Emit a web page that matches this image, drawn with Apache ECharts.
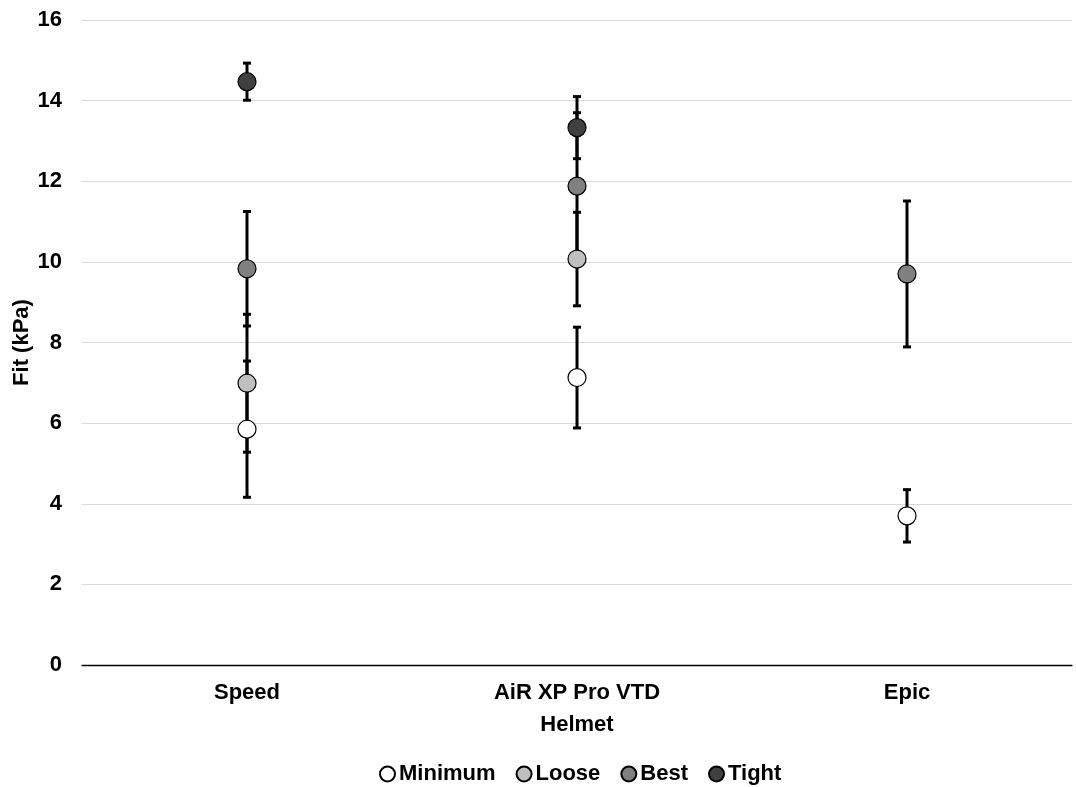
<!DOCTYPE html>
<html>
<head>
<meta charset="utf-8">
<script src="https://cdn.jsdelivr.net/npm/echarts@6/dist/echarts.min.js"></script>
<style>html,body{margin:0;padding:0;background:#fff}#c{width:1076px;height:787px}</style>
</head>
<body>
<div id="c"></div>
<script>
const categories = ['Speed', 'AiR XP Pro VTD', 'Epic'];
const yTicks = [0, 2, 4, 6, 8, 10, 12, 14, 16];
const seriesNames = ['Minimum', 'Loose', 'Best', 'Tight'];
const minimum = [5.85, 7.13, 3.70];
const minimumErr = [1.69, 1.25, 0.65];
const loose = [6.99, 10.07, null];
const looseErr = [1.71, 1.16, null];
const best = [9.83, 11.88, 9.70];
const bestErr = [1.42, 1.82, 1.81];
const tight = [14.47, 13.33, null];
const tightErr = [0.46, 0.77, null];
const colors = ['#ffffff', '#bfbfbf', '#808080', '#404040'];

const vals = [minimum, loose, best, tight];
const errs = [minimumErr, looseErr, bestErr, tightErr];
const FONT = '"Liberation Sans", Arial, sans-serif';

const chart = echarts.init(document.getElementById('c'));
const series = [];
vals.forEach((v, s) => {
  const d = [];
  v.forEach((y, i) => { if (y != null) d.push([i, y - errs[s][i], y + errs[s][i]]); });
  series.push({
    type: 'custom',
    z: 1,
    silent: true,
    renderItem: function (params, api) {
      const lo = api.coord([api.value(0), api.value(1)]);
      const hi = api.coord([api.value(0), api.value(2)]);
      const cw = 4;
      const st = { stroke: '#000', lineWidth: 3 };
      return {
        type: 'group',
        children: [
          { type: 'line', shape: { x1: lo[0], y1: lo[1], x2: hi[0], y2: hi[1] }, style: st },
          { type: 'line', shape: { x1: lo[0] - cw, y1: lo[1], x2: lo[0] + cw, y2: lo[1] }, style: st },
          { type: 'line', shape: { x1: hi[0] - cw, y1: hi[1], x2: hi[0] + cw, y2: hi[1] }, style: st }
        ]
      };
    },
    encode: { x: 0, y: [1, 2] },
    data: d
  });
});
vals.forEach((v, s) => {
  series.push({
    name: seriesNames[s],
    type: 'scatter',
    z: 5,
    symbol: 'circle',
    symbolSize: 18,
    itemStyle: { color: colors[s], borderColor: '#000', borderWidth: 1.2, opacity: 1 },
    data: v.map((y, i) => y == null ? null : [i, y]).filter(p => p)
  });
});

chart.setOption({
  animation: false,
  grid: { left: 82, right: 4, top: 20, bottom: 122, outerBoundsMode: 'none', containLabel: false },
  legend: {
    data: seriesNames,
    top: 758,
    left: 374,
    icon: 'circle',
    itemWidth: 15,
    itemHeight: 15,
    itemGap: 20,
    textStyle: { fontFamily: FONT, fontWeight: 'bold', fontSize: 22, color: '#000', padding: [0, 0, 0, -1] }
  },
  xAxis: {
    type: 'category',
    data: categories,
    name: 'Helmet',
    nameLocation: 'middle',
    nameGap: 49,
    nameMoveOverlap: false,
    nameTextStyle: { fontFamily: FONT, fontWeight: 'bold', fontSize: 22, color: '#000' },
    axisLine: { lineStyle: { color: '#000', width: 1.3 } },
    axisTick: { show: false },
    axisLabel: { fontFamily: FONT, fontWeight: 'bold', fontSize: 22, color: '#000', margin: 17 },
    splitLine: { show: false }
  },
  yAxis: {
    type: 'value',
    min: yTicks[0],
    max: yTicks[yTicks.length - 1],
    interval: 2,
    name: 'Fit (kPa)',
    nameLocation: 'middle',
    nameGap: 49,
    nameMoveOverlap: false,
    nameTextStyle: { fontFamily: FONT, fontWeight: 'bold', fontSize: 22, color: '#000' },
    axisLine: { show: false },
    axisTick: { show: false },
    axisLabel: { fontFamily: FONT, fontWeight: 'bold', fontSize: 22, color: '#000', margin: 20 },
    splitLine: { lineStyle: { color: '#d9d9d9', width: 1 } }
  },
  series: series
});
</script>
</body>
</html>
